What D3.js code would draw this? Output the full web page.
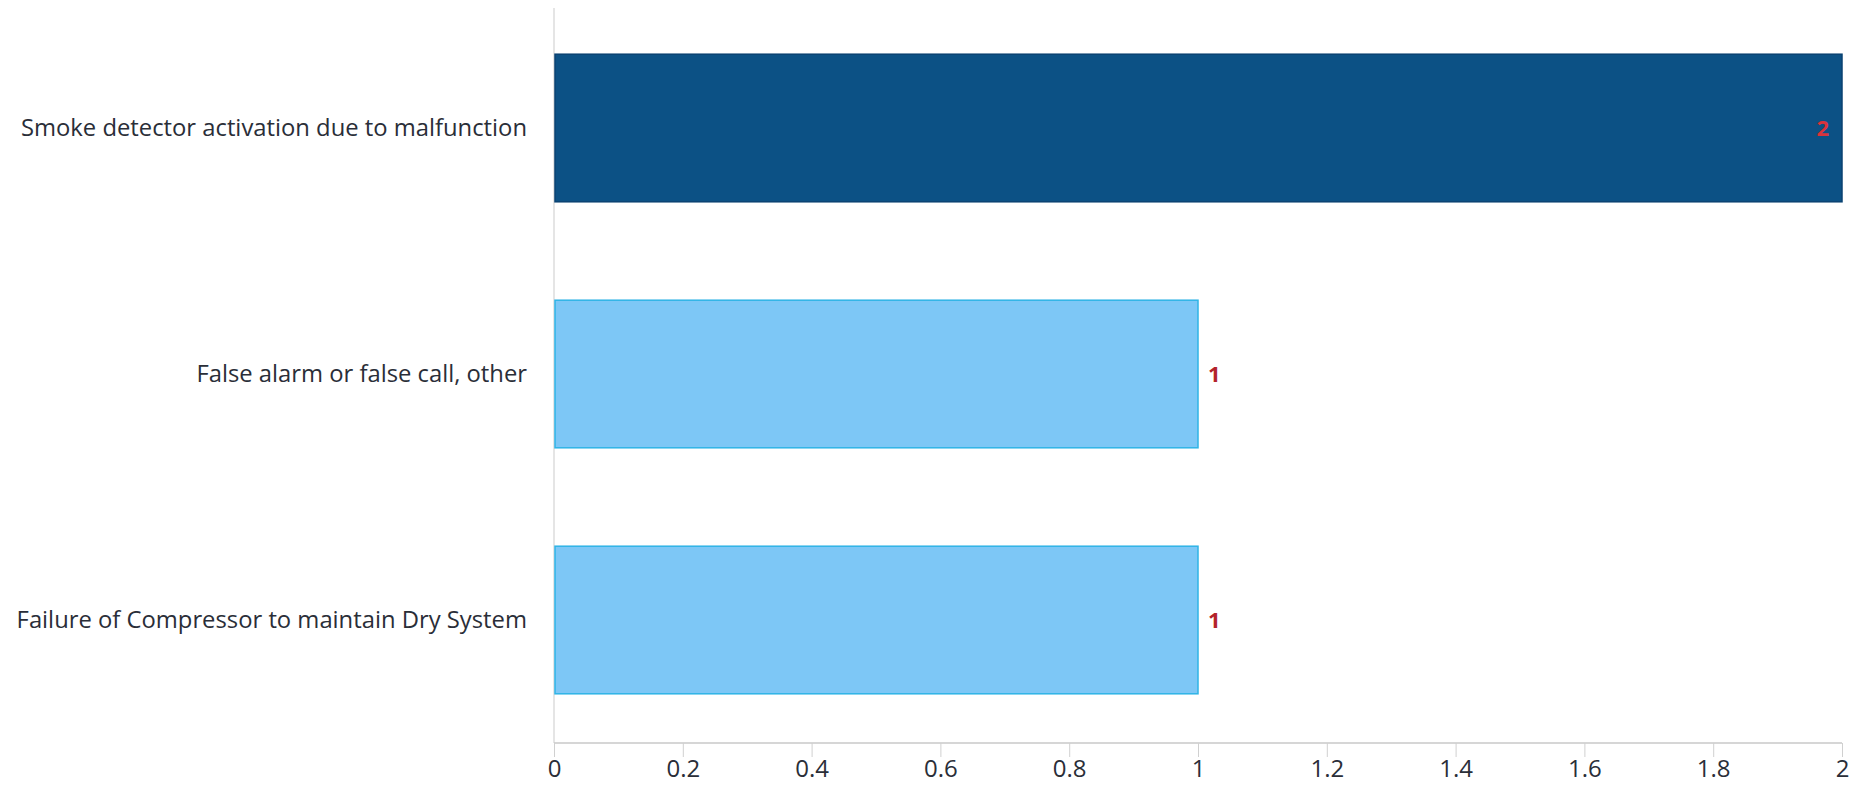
<!DOCTYPE html>
<html>
<head>
<meta charset="utf-8">
<script src="https://cdn.jsdelivr.net/npm/d3@7"></script>
<style>
  html, body { margin: 0; padding: 0; background: #ffffff; }
  svg { display: block; }
</style>
</head>
<body>
<svg id="chart" width="1864" height="788"></svg>
<script>
const categories = [
  "Smoke detector activation due to malfunction",
  "False alarm or false call, other",
  "Failure of Compressor to maintain Dry System"
];
const values = [2, 1, 1];
const barColors = ["#0c5185", "#7dc7f6", "#7dc7f6"];
const barStrokes = ["#0a4272", "#2fb4e6", "#2fb4e6"];
const labelColors = ["#d8343c", "#b3232b", "#b3232b"];
const tickValues = [0, 0.2, 0.4, 0.6, 0.8, 1, 1.2, 1.4, 1.6, 1.8, 2];

const font = "'Open Sans', 'Noto Sans', sans-serif";
const svg = d3.select("#chart");
const plotLeft = 554, plotRight = 1842, plotTop = 5, plotBottom = 743;

const x = d3.scaleLinear().domain([0, 2]).range([plotLeft, plotRight]);
const y = d3.scaleBand().domain(categories).range([plotTop, plotBottom])
  .paddingInner(0.4).paddingOuter(0.2);

// vertical axis line
svg.append("line")
  .attr("x1", plotLeft).attr("x2", plotLeft)
  .attr("y1", 8).attr("y2", plotBottom)
  .attr("stroke", "#dcdcdc").attr("stroke-width", 1.5);

// bars
svg.selectAll("rect.bar").data(categories).enter().append("rect")
  .attr("class", "bar")
  .attr("x", x(0) + 1)
  .attr("y", d => y(d))
  .attr("width", (d, i) => x(values[i]) - x(0) - 1)
  .attr("height", y.bandwidth())
  .attr("fill", (d, i) => barColors[i])
  .attr("stroke", (d, i) => barStrokes[i])
  .attr("stroke-width", 1.5);

// value labels
svg.selectAll("text.val").data(categories).enter().append("text")
  .attr("class", "val")
  .attr("x", (d, i) => values[i] >= 2 ? x(values[i]) - 13 : x(values[i]) + 10)
  .attr("y", d => y(d) + y.bandwidth() / 2)
  .attr("dy", "0.35em")
  .attr("text-anchor", (d, i) => values[i] >= 2 ? "end" : "start")
  .attr("font-family", font)
  .attr("font-weight", "bold")
  .attr("font-size", 22)
  .attr("fill", (d, i) => labelColors[i])
  .text((d, i) => values[i]);

// y category labels
const yAxis = svg.append("g")
  .attr("transform", `translate(${plotLeft},0)`)
  .call(d3.axisLeft(y).tickSize(0).tickPadding(27));
yAxis.select(".domain").remove();
yAxis.selectAll("text")
  .attr("font-family", font)
  .attr("font-size", 23.8)
  .attr("fill", "#2a2e38");

// x axis
const xAxis = svg.append("g")
  .attr("transform", `translate(0,${plotBottom})`)
  .call(d3.axisBottom(x).tickValues(tickValues).tickSize(14).tickPadding(3)
    .tickFormat(d3.format("~g")));
xAxis.select(".domain").attr("stroke", "#c8c8c8").attr("stroke-width", 1.5)
  .attr("d", `M${plotLeft},0H${plotRight}`);
xAxis.selectAll(".tick line").attr("stroke", "#d0d0d0");
xAxis.selectAll("text")
  .attr("font-family", font)
  .attr("font-size", 24)
  .attr("fill", "#2a2e38");
</script>
</body>
</html>
